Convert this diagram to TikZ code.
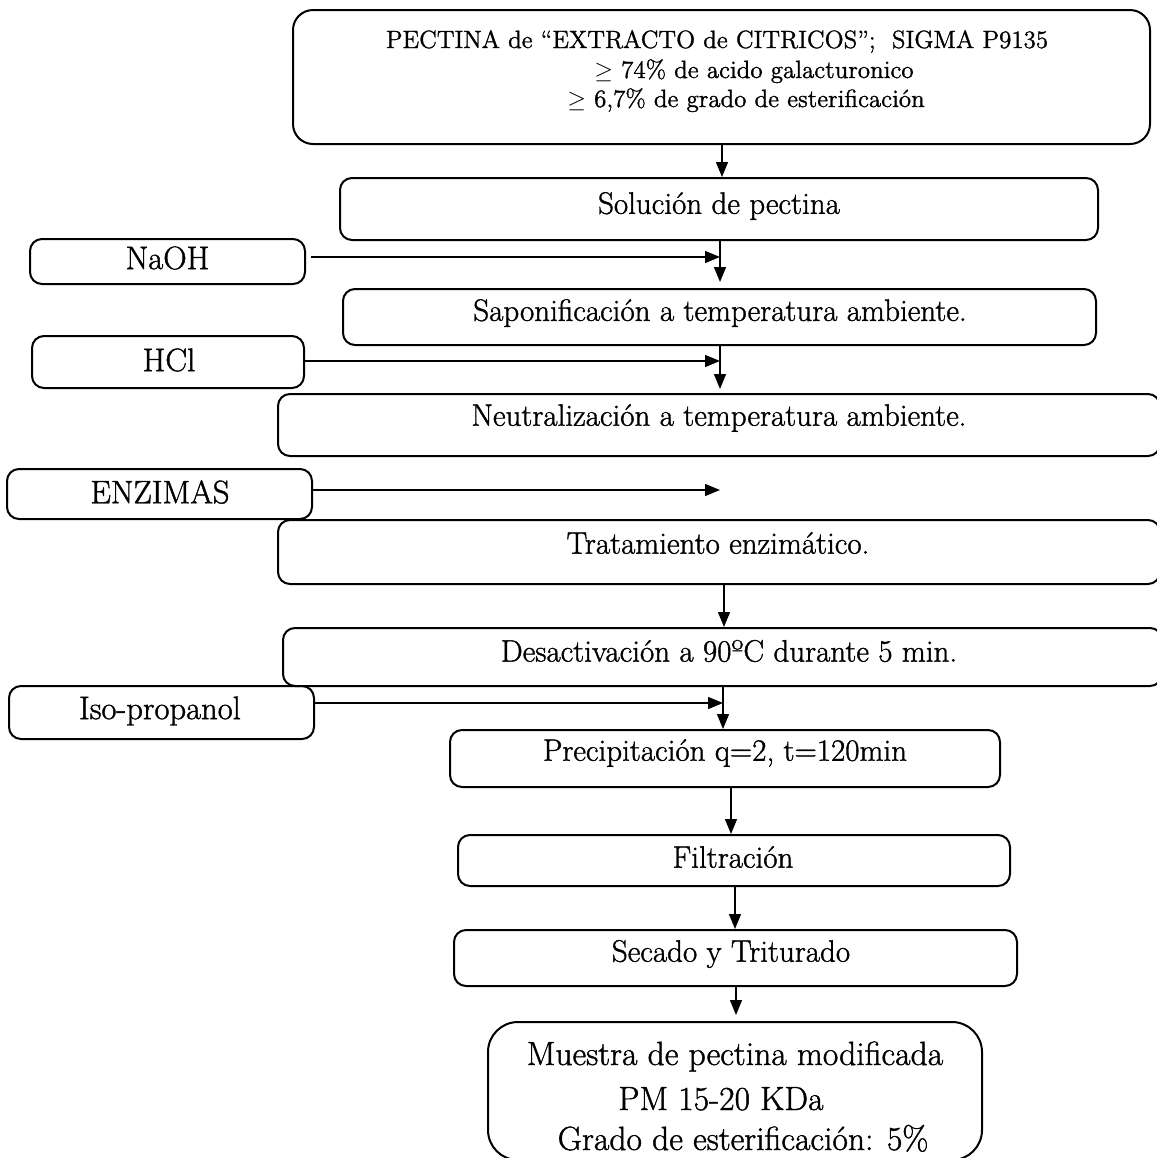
\documentclass[tikz,border=0pt]{standalone}
\usepackage{fontspec}
\setmainfont{Latin Modern Roman}[FakeBold=1.2]
\usetikzlibrary{arrows.meta}
\begin{document}
\begin{tikzpicture}[x=0.5pt,y=-0.5pt,
  box/.style={draw, line width=1pt, rounded corners=6pt, inner sep=0pt},
  txt/.style={inner sep=0pt, align=center, font=\fontsize{15.5}{18}\selectfont},
  side/.style={font=\fontsize{16.3}{19}\selectfont},
  topline/.style={inner sep=0pt, anchor=base, font=\fontsize{12.5}{15}\selectfont},
  endline/.style={inner sep=0pt, anchor=base, font=\fontsize{16.8}{20}\selectfont},
  arr/.style={line width=0.7pt, -{Triangle[length=7.5pt,width=6pt]}}
]
\useasboundingbox (0,0) rectangle (1157,1158);
% boxes
\node[box, rounded corners=10pt, minimum width=428.5pt, minimum height=67pt] (top) at (721.5,77) {};
\node[box, minimum width=379pt, minimum height=31pt] (sol) at (719,209) {};
\node[box, minimum width=137.5pt, minimum height=22.5pt] (naoh) at (167.5,261.5) {};
\node[box, minimum width=376.5pt, minimum height=28pt] (sap) at (719.5,317) {};
\node[box, minimum width=136pt, minimum height=26pt] (hcl) at (168,362) {};
\node[box, minimum width=441pt, minimum height=31pt] (neu) at (719,425) {};
\node[box, minimum width=152.5pt, minimum height=25pt] (enz) at (159.5,494) {};
\node[box, minimum width=441pt, minimum height=32pt] (tra) at (719,552) {};
\node[box, minimum width=439.5pt, minimum height=29pt] (des) at (722.5,657) {};
\node[box, minimum width=152.5pt, minimum height=26.5pt] (iso) at (161.5,712.5) {};
\node[box, minimum width=275pt, minimum height=28.5pt] (pre) at (725,758.5) {};
\node[box, minimum width=276pt, minimum height=25.5pt] (fil) at (734,860.5) {};
\node[box, minimum width=281.5pt, minimum height=28pt] (sec) at (735.5,958) {};
\node[box, rounded corners=15pt, minimum width=247pt, minimum height=69pt] (mue) at (735,1091) {};
% texts
\node[topline] (ttop1) at (717,48) {PECTINA de “EXTRACTO de CITRICOS”;\ \ SIGMA P9135};
\node[topline] (ttop2) at (754,78) {$\geq$ 74\% de acido galacturonico};
\node[topline] (ttop3) at (746,107) {$\geq$ 6,7\% de grado de esterificación};
\node[txt] (tsol) at (719,206) {Solución de pectina};
\node[txt, side] (tnaoh) at (167.5,258) {NaOH};
\node[txt] (tsap) at (720,313) {Saponificación a temperatura ambiente.};
\node[txt, side] (thcl) at (169,360) {HCl};
\node[txt] (tneu) at (719,418) {Neutralización a temperatura ambiente.};
\node[txt, side] (tenz) at (160,492) {ENZIMAS};
\node[txt] (ttra) at (718,543) {Tratamiento enzimático.};
\node[txt] (tdes) at (729,651) {Desactivación a 90ºC durante 5 min.};
\node[txt, side] (tiso) at (160,711) {Iso-propanol};
\node[txt] (tpre) at (725,753) {Precipitación q=2, t=120min};
\node[txt] (tfil) at (733,857) {Filtración};
\node[txt] (tsec) at (731,954) {Secado y Triturado};
\node[endline] (tmue1) at (735,1065) {Muestra de pectina modificada};
\node[endline] (tmue2) at (721,1110) {PM 15-20 KDa};
\node[endline] (tmue3) at (743,1150) {Grado de esterificación: 5\%};
% junction coordinates
\coordinate (j0) at (722,0);
\coordinate (j1) at (720,257);
\coordinate (j2) at (720,361);
\coordinate (j3) at (720,490);
\coordinate (j4) at (724,0);
\coordinate (j5) at (723,703);
\coordinate (j6) at (731,0);
\coordinate (j7) at (735,0);
\coordinate (j8) at (736,0);
% connectors
\draw[arr] (top.south -| j0) -- (sol.north -| j0);
\draw[arr] ([xshift=2.5pt]naoh.east |- j1) -- (j1);
\draw[arr, shorten >=3pt] (sol.south -| j1) -- (sap.north -| j1);
\draw[arr] (hcl.east |- j2) -- (j2);
\draw[arr, shorten >=2pt] (sap.south -| j2) -- (neu.north -| j2);
\draw[arr] (enz.east |- j3) -- (j3);
\draw[arr] (tra.south -| j4) -- (des.north -| j4);
\draw[arr] (iso.east |- j5) -- (j5);
\draw[arr] (des.south -| j5) -- (pre.north -| j5);
\draw[arr] (pre.south -| j6) -- (fil.north -| j6);
\draw[arr] (fil.south -| j7) -- (sec.north -| j7);
\draw[arr, shorten >=3pt] (sec.south -| j8) -- (mue.north -| j8);
\end{tikzpicture}
\end{document}
